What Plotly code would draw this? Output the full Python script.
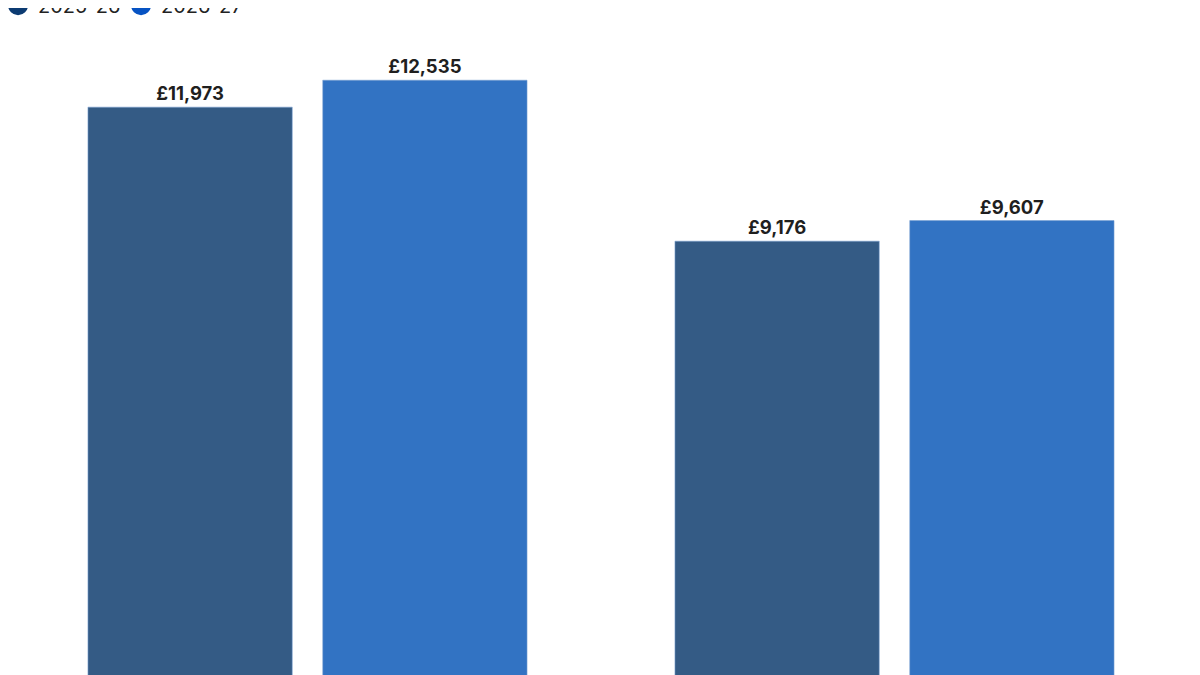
import plotly.graph_objects as go

# Dados do gráfico
categories = ["Group A", "Group B"]
years = ["2025-26", "2026-27"]
values_2025 = [11973, 9176]
values_2026 = [12535, 9607]

bar_colors = ["#345b85", "#3273c3"]
legend_colors = ["#0c3b72", "#0753c3"]

fig = go.Figure()

# Barras (sem legenda, a legenda usa círculos)
for name, vals, col in zip(years, [values_2025, values_2026], bar_colors):
    fig.add_trace(go.Bar(
        x=categories,
        y=vals,
        name=name,
        marker=dict(color=col, line=dict(width=0.8, color="rgba(120,160,210,0.7)")),
        text=[f"£{v:,}" for v in vals],
        textposition="outside",
        textfont=dict(family="Inter", size=18.5, color="#1f1f1f", weight="bold"),
        cliponaxis=False,
        showlegend=False,
        hoverinfo="skip",
    ))

# Entradas de legenda com marcador circular (a borda aumenta o círculo)
for name, col in zip(years, legend_colors):
    fig.add_trace(go.Scatter(
        x=[None], y=[None],
        mode="markers",
        name=name,
        marker=dict(color=col, size=16, symbol="circle", line=dict(width=4, color=col)),
    ))

# Layout: o body da página tem 8px de margem, então compensa aqui
fig.update_layout(
    width=1200,
    height=675,
    margin=dict(l=6, r=20, t=32, b=0, autoexpand=False),
    paper_bgcolor="white",
    plot_bgcolor="white",
    barmode="group",
    bargap=0.2,
    bargroupgap=0.13,
    font=dict(family="Inter", color="#222222"),
    legend=dict(
        orientation="h",
        x=-0.0136, xanchor="left",
        y=1.054, yanchor="middle",
        font=dict(size=20, color="#222222"),
        itemsizing="trace",
        entrywidth=78,
        bgcolor="rgba(0,0,0,0)",
    ),
    xaxis=dict(visible=False, range=[-0.5, 1.5]),
    yaxis=dict(visible=False, range=[-42, 13374]),
)

fig.write_html("out.html")
